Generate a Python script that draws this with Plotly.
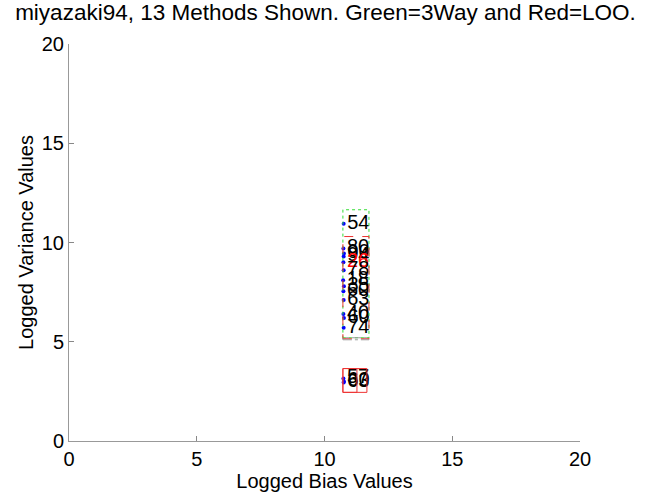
import plotly.graph_objects as go

# ---- data ----
labels = ["54", "80", "90", "94", "26", "78", "18", "35", "60", "63", "40", "60", "74",
          "57", "60", "63"]
bias = [10.75, 10.74, 10.76, 10.75, 10.74, 10.75, 10.73, 10.76, 10.74, 10.75, 10.74, 10.76, 10.75,
        10.74, 10.76, 10.75]
variance = [10.95, 9.70, 9.45, 9.30, 9.00, 8.60, 8.10, 7.80, 7.55, 7.10, 6.40, 6.20, 5.70,
            3.15, 3.00, 2.95]
label_colors = ["black", "black", "black", "black", "red", "black", "black", "black", "black",
                "black", "black", "black", "black", "black", "black", "black"]

# range boxes: [x0, x1, y0, y1]
box_x0 = [10.72, 10.72, 10.72, 10.72, 10.72]
box_x1 = [11.74, 11.74, 11.74, 11.66, 11.27]
box_y0 = [5.20, 5.15, 5.10, 2.45, 2.45]
box_y1 = [11.65, 10.30, 5.20, 3.65, 3.65]
box_colors = ["#33dd33", "#ee3333", "#999999", "#ee3333", "#ee3333"]
box_dash = ["dot", "dash", "dashdot", "solid", "solid"]

x_ticks = [0, 5, 10, 15, 20]
y_ticks = [0, 5, 10, 15, 20]

FONT = "Liberation Sans, Arial, Helvetica, sans-serif"

fig = go.Figure()
for i in range(len(box_x0)):
    fig.add_shape(type="rect", xref="x", yref="y",
                  x0=box_x0[i], x1=box_x1[i], y0=box_y0[i], y1=box_y1[i],
                  line=dict(color=box_colors[i], width=1, dash=box_dash[i]),
                  fillcolor="rgba(0,0,0,0)", layer="above")

fig.add_trace(go.Scatter(
    x=bias, y=variance, mode="markers+text", text=labels,
    textposition="middle right",
    textfont=dict(family=FONT, size=20, color=label_colors),
    marker=dict(color="blue", size=4),
    cliponaxis=False, showlegend=False, hoverinfo="skip"))

axis_common = dict(
    range=[0, 20], tickmode="array", ticks="inside", ticklen=5, tickcolor="#888888",
    showline=True, linecolor="#999999", linewidth=1, showgrid=False, zeroline=False,
    tickfont=dict(family=FONT, size=20, color="black"), mirror=False,
)

fig.update_layout(
    width=651, height=499,
    margin=dict(l=69, r=71, t=44, b=55),
    paper_bgcolor="white", plot_bgcolor="white",
    title=dict(text="miyazaki94, 13 Methods Shown. Green=3Way and Red=LOO.",
               x=0.5, xanchor="center", y=0.992, yanchor="top",
               font=dict(family=FONT, size=22.5, color="black")),
    xaxis=dict(**axis_common, tickvals=x_ticks, ticktext=[str(v) for v in x_ticks],
               title=dict(text="Logged Bias Values", standoff=3,
                          font=dict(family=FONT, size=20, color="black"))),
    yaxis=dict(**axis_common, tickvals=y_ticks, ticktext=[str(v) for v in y_ticks],
               title=dict(text="Logged Variance Values", standoff=2,
                          font=dict(family=FONT, size=20, color="black"))),
)

fig.write_html("out.html")
